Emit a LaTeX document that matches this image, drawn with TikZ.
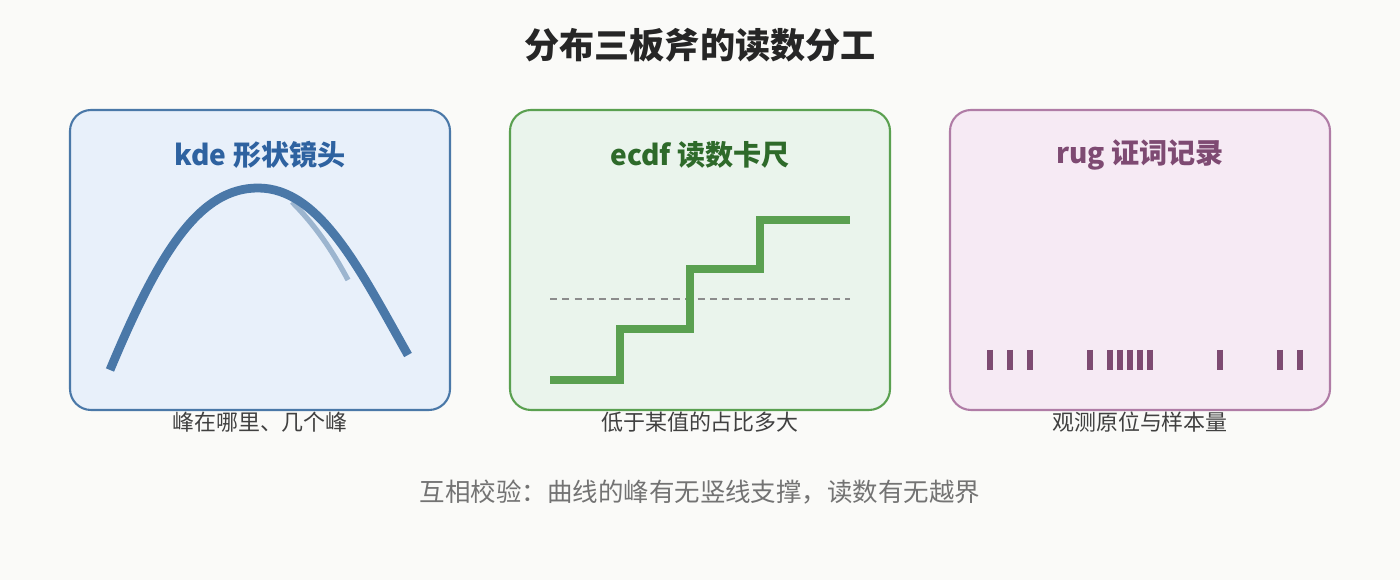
\documentclass[tikz,border=0pt]{standalone}
\usepackage{fontspec}
\setmainfont{Noto Sans CJK SC}
\usepackage{xcolor}
\definecolor{bg}{HTML}{FAFAF8}
\definecolor{kdeC}{HTML}{4A78A8}
\definecolor{kdeT}{HTML}{2E62A0}
\definecolor{kdeF}{HTML}{E8F0FA}
\definecolor{ecdfC}{HTML}{5AA050}
\definecolor{ecdfT}{HTML}{2E6A2A}
\definecolor{ecdfF}{HTML}{EAF4EC}
\definecolor{rugC}{HTML}{7E4A72}
\definecolor{rugB}{HTML}{B07CA6}
\definecolor{rugF}{HTML}{F6EAF4}
\begin{document}
\begin{tikzpicture}[x=0.02cm,y=-0.02cm,
  panel/.style={rounded corners=12pt,line width=1.2pt},
  ptitle/.style={font=\bfseries\fontsize{16}{19}\selectfont},
  caption/.style={font=\fontsize{12.5}{15}\selectfont,text=black!75}]
  \fill[bg] (0,0) rectangle (1400,580);
  \useasboundingbox (0,0) rectangle (1400,580);
  \node[font=\bfseries\fontsize{20}{24}\selectfont,text=black!85] (title) at (700,45) {分布三板斧的读数分工};

  % kde
  \draw[panel,draw=kdeC,fill=kdeF] (70,110) rectangle (450,410);
  \node[ptitle,text=kdeT] (kdeT1) at (260,155) {kde 形状镜头};
  \draw[kdeC!55,line width=3pt] (292,202) .. controls (315,225) and (332,250) .. (348,280);
  \draw[kdeC,line width=5pt] (110,370) .. controls (160,250) and (200,188) .. (258,188)
    .. controls (320,188) and (360,270) .. (408,355);
  \node[caption] (kdeC1) at (260,422) {峰在哪里、几个峰};

  % ecdf
  \draw[panel,draw=ecdfC,fill=ecdfF] (510,110) rectangle (890,410);
  \node[ptitle,text=ecdfT] (ecdfT1) at (700,155) {ecdf 读数卡尺};
  \draw[black!45,dash pattern=on 4pt off 3pt,line width=1pt] (550,299) -- (850,299);
  \draw[ecdfC,line width=5pt] (550,380) -| (620,329) -| (690,269) -| (760,220) -- (850,220);
  \node[caption] (ecdfC1) at (700,422) {低于某值的占比多大};

  % rug
  \draw[panel,draw=rugB,fill=rugF] (950,110) rectangle (1330,410);
  \node[ptitle,text=rugC] (rugT) at (1140,155) {rug 证词记录};
  \foreach \x in {990,1010,1030,1090,1110,1120,1130,1140,1150,1220,1280,1300}
    \draw[rugC,line width=3pt] (\x,350) -- (\x,370);
  \node[caption] (rugC1) at (1140,422) {观测原位与样本量};

  \node[font=\fontsize{14.5}{18}\selectfont,text=black!55] (foot) at (700,492) {互相校验：曲线的峰有无竖线支撑，读数有无越界};
\end{tikzpicture}
\end{document}
